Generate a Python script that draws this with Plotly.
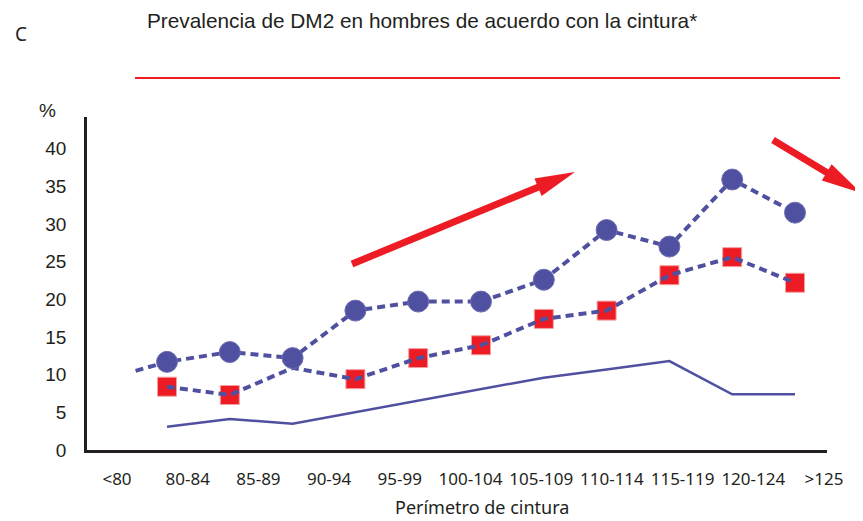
import plotly.graph_objects as go

# ---- data ----
categories = ["<80", "80-84", "85-89", "90-94", "95-99", "100-104",
              "105-109", "110-114", "115-119", "120-124", ">125"]
circle_values = [11.7, 13.0, 12.2, 18.5, 19.7, 19.7, 22.6, 29.2, 27.0, 35.9, 31.5]
circle_lead_in = 10.5          # dashed line starts half a category before the first point
square_values = [8.4, 7.3, None, 9.4, 12.2, 13.9, 17.4, 18.5, 23.2, 25.6, 22.2]
square_line_values = [8.4, 7.3, 10.9, 9.4, 12.2, 13.9, 17.4, 18.5, 23.2, 25.6, 22.2]
solid_values = [3.1, 4.1, 3.5, 5.0, 6.6, 8.1, 9.6, 10.7, 11.8, 7.4, 7.4]
y_ticks = [0, 5, 10, 15, 20, 25, 30, 35, 40]

BLUE = "rgb(80,80,160)"
RED = "rgb(237,28,36)"
DARK = "#231F20"

OFF = 8                      # page body margin of the html
W, H = 863 - OFF, 521 - OFF
# plot area in reference pixels: x 87..827, y 117..450
L, T = 87 - OFF, 117 - OFF
R, B = W - (827 - OFF), H - (450 - OFF)
PW, PH = W - L - R, H - T - B


def px(x):
    return (x - OFF - L) / PW


def py(y):
    return (H - B - (y - OFF)) / PH


idx = list(range(len(categories)))

fig = go.Figure()
fig.add_trace(go.Scatter(x=[], y=[], xaxis="x", yaxis="y", showlegend=False))

fig.add_trace(go.Scatter(x=idx, y=solid_values, mode="lines", xaxis="x2", yaxis="y",
                         line=dict(color=BLUE, width=2.5), showlegend=False))
fig.add_trace(go.Scatter(x=idx, y=square_values, mode="markers", xaxis="x2", yaxis="y",
                         marker=dict(symbol="square", size=19, color=RED,
                                     line=dict(color="rgb(245,160,160)", width=1)),
                         showlegend=False))
fig.add_trace(go.Scatter(x=idx, y=square_line_values, mode="lines", xaxis="x2", yaxis="y",
                         line=dict(color=BLUE, width=4, dash="8px,5px"), showlegend=False))
fig.add_trace(go.Scatter(x=[-0.5] + idx, y=[circle_lead_in] + circle_values, mode="lines",
                         xaxis="x2", yaxis="y",
                         line=dict(color=BLUE, width=4, dash="8px,5px"), showlegend=False))
fig.add_trace(go.Scatter(x=idx, y=circle_values, mode="markers", xaxis="x2", yaxis="y",
                         marker=dict(symbol="circle", size=21, color=BLUE,
                                     line=dict(color="rgb(110,110,180)", width=1)),
                         showlegend=False))

shapes = [
    dict(type="line", xref="paper", yref="paper", x0=px(135), x1=px(840), y0=py(78), y1=py(78),
         line=dict(color=RED, width=2)),
]


def arrow(x0, y0, x1, y1, shaft=7, head_len=40, head_half=9.5):
    dx, dy = x1 - x0, y1 - y0
    ln = (dx * dx + dy * dy) ** 0.5
    ux, uy = dx / ln, dy / ln
    nx, ny = -uy, ux
    bx, by = x1 - head_len * ux, y1 - head_len * uy
    out = [dict(type="line", xref="paper", yref="paper",
                x0=px(x0), y0=py(y0), x1=px(bx + 2 * ux), y1=py(by + 2 * uy),
                line=dict(color=RED, width=shaft))]
    pts = [(x1, y1), (bx + head_half * nx, by + head_half * ny), (bx - head_half * nx, by - head_half * ny)]
    path = "M " + " L ".join(f"{px(a):.5f},{py(b):.5f}" for a, b in pts) + " Z"
    out.append(dict(type="path", xref="paper", yref="paper", path=path,
                    fillcolor=RED, line=dict(color=RED, width=0)))
    return out


shapes += arrow(352, 264, 575, 172)
shapes += arrow(773, 140, 861, 193)

annotations = [
    dict(text="Prevalencia de DM2 en hombres de acuerdo con la cintura*", xref="paper", yref="paper",
         x=px(145), y=py(20), xanchor="left", yanchor="middle", showarrow=False,
         font=dict(family="Liberation Sans, Arial", size=20.8, color=DARK)),
    dict(text="C", xref="paper", yref="paper", x=px(13), y=py(34), xanchor="left", yanchor="middle",
         showarrow=False, font=dict(family="Noto Sans", size=19, color=DARK)),
    dict(text="%", xref="paper", yref="paper", x=px(47), y=py(111), xanchor="center", yanchor="middle",
         showarrow=False, font=dict(family="Liberation Sans, Arial", size=19, color=DARK)),
    dict(text="Perímetro de cintura", xref="paper", yref="paper", x=px(482), y=py(507),
         xanchor="center", yanchor="middle", showarrow=False,
         font=dict(family="Noto Sans", size=18, color=DARK)),
]

fig.update_layout(
    width=W, height=H,
    margin=dict(l=L, r=R, t=T, b=B),
    paper_bgcolor="white", plot_bgcolor="white",
    showlegend=False,
    xaxis=dict(range=[-30 / 70.7, 710 / 70.7], tickvals=idx, ticktext=categories,
               showgrid=False, zeroline=False, showline=True, linecolor=DARK, linewidth=3,
               ticks="", ticklabelstandoff=12,
               tickfont=dict(family="Noto Sans", size=17, color=DARK)),
    xaxis2=dict(range=[-80 / 62.8, 660 / 62.8], overlaying="x", anchor="y", visible=False),
    yaxis=dict(range=[0, 44.2], tickvals=y_ticks, showgrid=False, zeroline=False,
               showline=True, linecolor=DARK, linewidth=2.5, ticks="", ticklabelstandoff=14,
               tickfont=dict(family="Liberation Sans, Arial", size=19, color=DARK)),
    shapes=shapes,
    annotations=annotations,
)

fig.write_html("out.html")
